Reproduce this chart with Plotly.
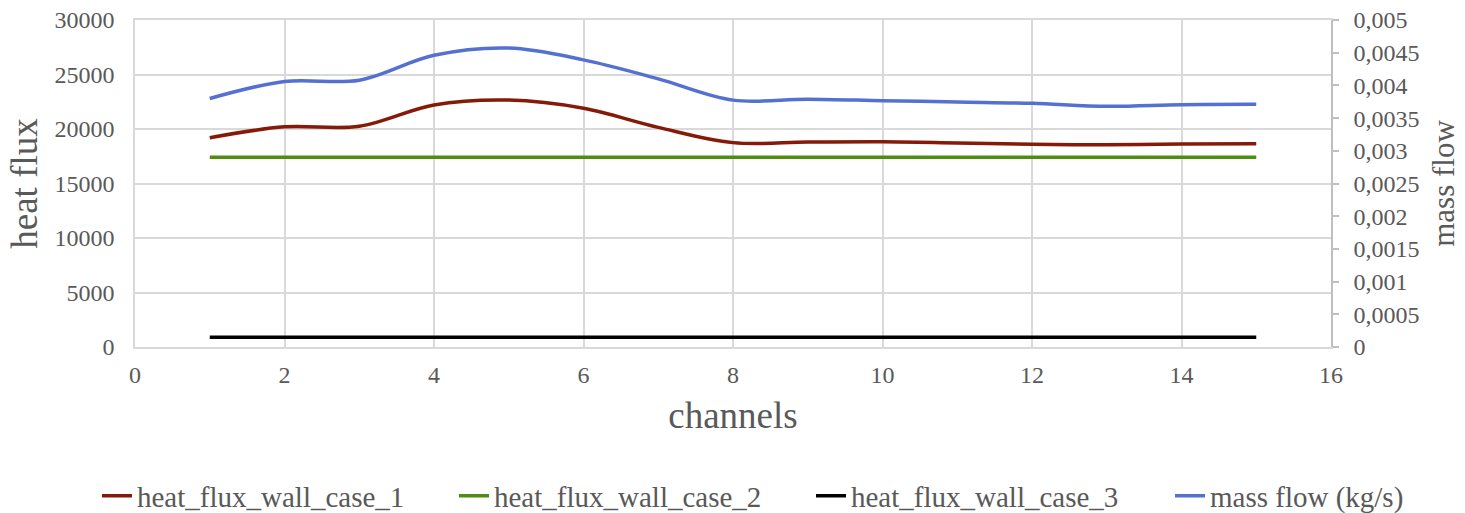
import plotly.graph_objects as go

channels = [1, 2, 3, 4, 5, 6, 7, 8, 9, 10, 11, 12, 13, 14, 15]
heat_flux_case_1 = [19200, 20200, 20250, 22200, 22650, 21900, 20150, 18750, 18800, 18830, 18720, 18600, 18560, 18620, 18650]
heat_flux_case_2 = [17400, 17400, 17400, 17400, 17400, 17400, 17400, 17400, 17400, 17400, 17400, 17400, 17400, 17400, 17400]
heat_flux_case_3 = [900, 900, 900, 900, 900, 900, 900, 900, 900, 900, 900, 900, 900, 900, 900]
mass_flow = [0.0038, 0.00406, 0.00408, 0.00446, 0.00457, 0.00439, 0.00410, 0.003775, 0.00379, 0.003767,
             0.003746, 0.003726, 0.00368, 0.003705, 0.00371]

left_ticks = [0, 5000, 10000, 15000, 20000, 25000, 30000]
left_labels = ["0", "5000", "10000", "15000", "20000", "25000", "30000"]
right_ticks = [0, 0.0005, 0.001, 0.0015, 0.002, 0.0025, 0.003, 0.0035, 0.004, 0.0045, 0.005]
right_labels = ["0", "0,0005", "0,001", "0,0015", "0,002", "0,0025", "0,003", "0,0035", "0,004", "0,0045", "0,005"]
x_ticks = [0, 2, 4, 6, 8, 10, 12, 14, 16]

FONT = "Liberation Serif"
GRAY = "#595959"
GRID = "#d9d9d9"

fig = go.Figure()
line_kw = dict(shape="spline", smoothing=1.0, width=3.5)
fig.add_trace(go.Scatter(x=channels, y=heat_flux_case_1, mode="lines", name="heat_flux_wall_case_1",
                         line=dict(color="#841a07", **line_kw)))
fig.add_trace(go.Scatter(x=channels, y=heat_flux_case_2, mode="lines", name="heat_flux_wall_case_2",
                         line=dict(color="#4f8c12", **line_kw)))
fig.add_trace(go.Scatter(x=channels, y=heat_flux_case_3, mode="lines", name="heat_flux_wall_case_3",
                         line=dict(color="#000000", **line_kw)))
fig.add_trace(go.Scatter(x=channels, y=mass_flow, mode="lines", name="mass flow (kg/s)", yaxis="y2",
                         legend="legend2", line=dict(color="#5470d0", **line_kw)))

legend_common = dict(orientation="h", y=-0.455, yanchor="middle",
                     font=dict(family=FONT, size=29, color=GRAY), bgcolor="rgba(0,0,0,0)",
                     itemwidth=30, traceorder="normal")

fig.update_layout(
    width=1465, height=513,
    margin=dict(l=135, r=134, t=20, b=166, pad=0, autoexpand=False),
    paper_bgcolor="white", plot_bgcolor="white",
    font=dict(family=FONT, color=GRAY, size=24),
    xaxis=dict(range=[0, 16], tickvals=x_ticks, showgrid=True, gridcolor=GRID, gridwidth=1.5,
               zeroline=False, showline=True, linecolor=GRID, linewidth=1.5, mirror=True,
               ticks="", ticklabelstandoff=5, tickfont=dict(family=FONT, size=24, color=GRAY),
               automargin=False,
               title=dict(text="channels", font=dict(family=FONT, size=37, color=GRAY), standoff=16)),
    yaxis=dict(range=[0, 30000], tickvals=left_ticks, ticktext=left_labels, showgrid=True,
               gridcolor=GRID, gridwidth=1.5, zeroline=False, showline=True, linecolor=GRID,
               linewidth=1.5, ticks="", ticklabelstandoff=14, tickfont=dict(family=FONT, size=24, color=GRAY),
               automargin=False,
               title=dict(text="heat flux", font=dict(family=FONT, size=37, color=GRAY), standoff=6)),
    yaxis2=dict(range=[0, 0.005], tickvals=right_ticks, ticktext=right_labels, overlaying="y",
                side="right", showgrid=False, zeroline=False, showline=True, linecolor="#bfbfbf",
                linewidth=1.5, ticks="outside", ticklen=6, tickcolor="#bfbfbf", tickwidth=1.5,
                ticklabelstandoff=10, tickfont=dict(family=FONT, size=24, color=GRAY),
                automargin=False,
                title=dict(text="mass flow", font=dict(family=FONT, size=31, color=GRAY), standoff=14)),
    legend=dict(x=(97 - 135) / 1196, xanchor="left", entrywidth=312, entrywidthmode="pixels",
                **legend_common),
    legend2=dict(x=(1170 - 135) / 1196, xanchor="left", **legend_common),
    showlegend=True,
)

fig.write_html("out.html")
